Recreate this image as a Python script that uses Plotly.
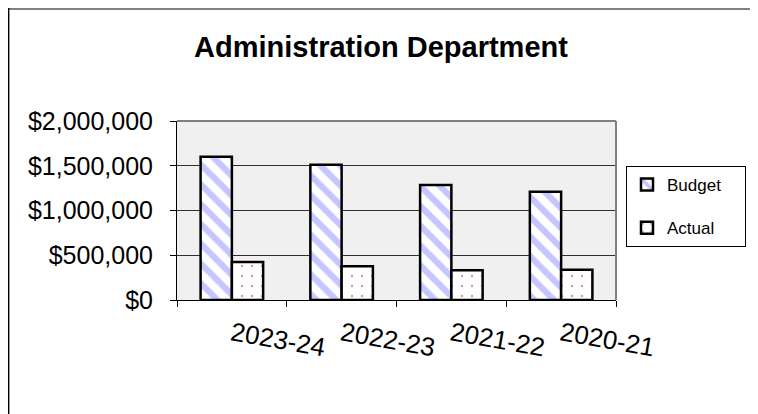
import plotly.graph_objects as go

categories = ["2023-24", "2022-23", "2021-22", "2020-21"]
budget = [1600000, 1510000, 1285000, 1210000]
actual = [425000, 376000, 332000, 339000]
y_ticks = [0, 500000, 1000000, 1500000, 2000000]
y_tick_labels = ["$0", "$500,000", "$1,000,000", "$1,500,000", "$2,000,000"]

FONT = "Liberation Sans, Arial, sans-serif"
PAD = "\u00a0" * 4  # widens the legend box like the reference

fig = go.Figure()
fig.add_trace(go.Bar(
    name="Budget" + PAD, x=categories, y=budget, legendgroup="b",
    marker=dict(color="white", line=dict(color="black", width=2.5),
                pattern=dict(shape="\\", fgcolor="#8C8CFF", bgcolor="white",
                             size=14, solidity=0.45, fillmode="overlay")),
))
fig.add_trace(go.Bar(
    name="Actual", x=categories, y=actual, legendgroup="a",
    marker=dict(color="white", line=dict(color="black", width=2.5),
                pattern=dict(shape=".", fgcolor="#993366", bgcolor="white",
                             size=10, solidity=0.045, fillmode="overlay")),
))

OFF = 8  # page offset in the screenshot
W, H = 758 - OFF, 414 - OFF
L, T = 177 - OFF, 121 - OFF
R = W - (616 - OFF)
B = H - (300 - OFF)
pw, ph = W - L - R, H - T - B

def px(x):
    return (x - OFF - L) / pw

def py(y):
    return (H - B - (y - OFF)) / ph

shapes = [
    dict(type="line", xref="paper", yref="paper", x0=0, x1=1, y0=1, y1=1,
         line=dict(color="#808080", width=2)),
    dict(type="line", xref="paper", yref="paper", x0=1, x1=1, y0=0, y1=1,
         line=dict(color="#808080", width=2)),
    # outer chart border at the figure's edge
    dict(type="line", xref="paper", yref="paper", x0=px(8), x1=px(770), y0=py(9), y1=py(9),
         line=dict(color="#808080", width=2)),
    dict(type="line", xref="paper", yref="paper", x0=px(8.7), x1=px(8.7), y0=py(8), y1=py(430),
         line=dict(color="black", width=1.4)),
]

fig.update_layout(
    width=W, height=H,
    margin=dict(l=L, r=R, t=T, b=B, autoexpand=False),
    paper_bgcolor="white",
    plot_bgcolor="#F0F0F0",
    font=dict(family=FONT, color="black"),
    title=dict(text="<b>Administration Department</b>", x=(381 - OFF) / W, xanchor="center",
               y=(H - (47 - OFF)) / H, yanchor="middle",
               font=dict(size=29, family=FONT, color="black")),
    barmode="group", bargap=0.43, bargroupgap=0,
    showlegend=True,
    legend=dict(x=px(626), y=py(166), xanchor="left", yanchor="top",
                bordercolor="black", borderwidth=1, bgcolor="white",
                font=dict(size=17, family=FONT), tracegroupgap=18,
                traceorder="grouped", itemwidth=30),
    shapes=shapes,
)
fig.update_xaxes(
    type="category", tickson="boundaries", ticks="outside", ticklen=6, tickcolor="black",
    showline=True, linecolor="black", linewidth=1, showgrid=False,
    tickangle=10, tickfont=dict(size=26, family=FONT), ticklabelstandoff=8,
)
fig.update_yaxes(
    range=[0, 2000000], tickvals=y_ticks, ticktext=y_tick_labels,
    ticks="outside", ticklen=6, tickcolor="black",
    showline=True, linecolor="black", linewidth=1,
    showgrid=True, gridcolor="#303030", gridwidth=1, zeroline=False,
    tickfont=dict(size=25, family=FONT), ticklabelstandoff=12,
)
fig.write_html("out.html")
